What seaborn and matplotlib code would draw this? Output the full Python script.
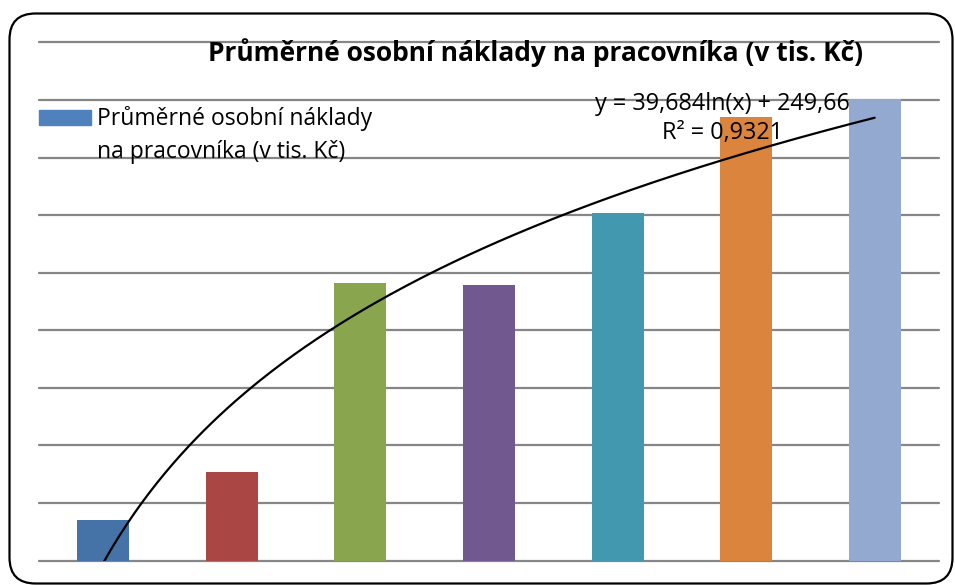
import numpy as np
import pandas as pd
import seaborn as sns
import matplotlib.pyplot as plt
from matplotlib.patches import Rectangle, FancyBboxPatch

# --- data ---
categories = ["1", "2", "3", "4", "5", "6", "7"]
naklady = [257.1, 265.4, 298.2, 297.8, 310.4, 327.0, 330.1]
bar_colors = ["#4572A7", "#AA4643", "#89A54E", "#71588F", "#4198AF", "#DB843D", "#93A9CF"]
title = "Průměrné osobní náklady na pracovníka (v tis. Kč)"
legend_lines = ["Průměrné osobní náklady", "na pracovníka (v tis. Kč)"]
eq_text = "y = 39,684ln(x) + 249,66"
r2_text = "R² = 0,9321"

df = pd.DataFrame({"kat": categories, "naklady": naklady})

sns.set_theme(style="white")
plt.rcParams["font.family"] = ["Open Sans", "DejaVu Sans"]
plt.rcParams["text.color"] = "black"

W, H = 955, 585
fig = plt.figure(figsize=(W / 100, H / 100), dpi=100)
ax = fig.add_axes([39 / W, 1 - 560.7 / H, 900 / W, 518.4 / H])

sns.barplot(data=df, x="kat", y="naklady", hue="kat", palette=bar_colors,
            width=0.405, legend=False, ax=ax, saturation=1, linewidth=0)

# gridlines
for v in range(250, 341, 10):
    ax.axhline(v, color="#868686", lw=1.6, zorder=0, clip_on=False)

# logarithmic trend line (fit on ln(x))
xs = np.arange(1, len(naklady) + 1)
b, a = np.polyfit(np.log(xs), naklady, 1)
xx = np.linspace(1, len(naklady), 200)
ax.plot(xx - 1, b * np.log(xx) + a, color="black", lw=1.6, zorder=5)

ax.set_ylim(250, 340)
ax.set_xlim(-0.5, len(categories) - 0.5)
ax.set_axis_off()

fig.text(535 / W, 1 - 53 / H, title, ha="center", va="center",
         fontsize=19, fontweight="bold")
fig.text(722 / W, 1 - 104 / H, eq_text, ha="center", va="center", fontsize=16.8)
fig.text(722 / W, 1 - 133 / H, r2_text, ha="center", va="center", fontsize=16.8)

# legend: colour swatch + two-line label
fig.patches.append(Rectangle((39 / W, 1 - 125 / H), 52 / W, 15 / H,
                             transform=fig.transFigure, color="#4F81BD"))
fig.text(97 / W, 1 - 125 / H, legend_lines[0], ha="left", va="baseline", fontsize=16.5)
fig.text(97 / W, 1 - 158 / H, legend_lines[1], ha="left", va="baseline", fontsize=16.5)

# rounded chart frame
frame = FancyBboxPatch((9.5, 1.5), 943, 570, boxstyle="round,pad=0,rounding_size=26",
                       transform=None, fill=False, ec="black", lw=1.6, zorder=10)
fig.patches.append(frame)

fig.savefig("out.png", dpi=100)
plt.close()
